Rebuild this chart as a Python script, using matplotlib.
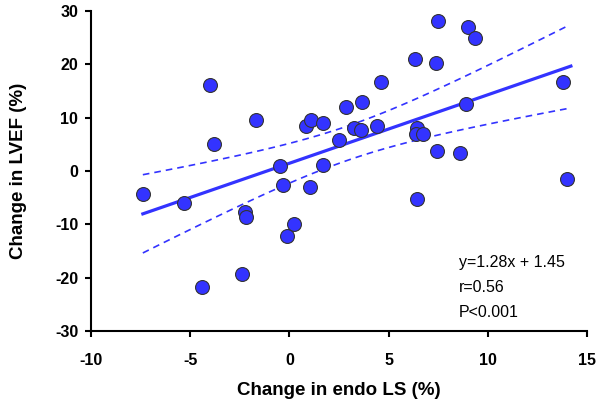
import numpy as np
import matplotlib
matplotlib.use("Agg")
import matplotlib.pyplot as plt

plt.rcParams['font.family'] = ['Liberation Sans', 'DejaVu Sans']
plt.rcParams['axes.unicode_minus'] = False

# Change in endo LS (%) vs change in LVEF (%)
endo_ls = [-7.4, -5.3, -4.4, -4.0, -3.8, -2.4, -2.25, -2.2, -1.7, -0.5,
           -0.35, -0.15, 0.25, 0.85, 1.05, 1.1, 1.7, 1.7, 2.5, 2.85,
           3.25, 3.6, 3.65, 4.4, 4.6, 6.35, 6.45, 6.4, 6.75, 6.45,
           7.4, 7.45, 7.5, 8.6, 8.9, 9.0, 9.35, 13.8, 14.0]
lvef = [-4.3, -6.0, -21.8, 16.1, 5.1, -19.3, -7.7, -8.7, 9.6, 0.9,
        -2.6, -12.2, -10.0, 8.4, -3.05, 9.6, 9.05, 1.2, 5.8, 12.0,
        8.0, 7.6, 13.0, 8.4, 16.7, 20.9, 8.0, 6.9, 6.9, -5.3,
        20.2, 3.75, 28.0, 3.4, 12.6, 27.0, 24.8, 16.7, -1.5]

slope = 1.28
intercept = 1.45
stats_text = ["y=1.28x + 1.45", "r=0.56", "P<0.001"]

x = np.array(endo_ls)
y = np.array(lvef)

# regression line with 95% confidence band around it
xs = np.linspace(x.min(), 14.2, 100)
ys = slope * xs + intercept
xb = np.linspace(x.min(), x.max(), 100)
yb = slope * xb + intercept
n = len(x)
resid = y - (slope * x + intercept)
s = np.sqrt(np.sum(resid ** 2) / (n - 2))
sxx = np.sum((x - x.mean()) ** 2)
half = 2.024 * s * np.sqrt(1 / n + (xb - x.mean()) ** 2 / sxx)

blue = '#3333ff'

fig = plt.figure(figsize=(6, 4.09), dpi=100)
ax = fig.add_axes([0.1522, 0.19, 0.8257, 0.7839])

ax.plot(xs, ys, color=blue, lw=2.3, zorder=2)
ax.plot(xb, yb + half, color=blue, lw=1.2, ls=(0, (4, 3)), zorder=2)
ax.plot(xb, yb - half, color=blue, lw=1.2, ls=(0, (4, 3)), zorder=2)
ax.scatter(x, y, s=100, color=blue, edgecolors='#333333', linewidths=0.8, zorder=3)

ax.set_xlim(-10, 15)
ax.set_ylim(-30, 30)
ax.set_xticks(range(-10, 16, 5))
ax.set_yticks(range(-30, 31, 10))

for side in ['top', 'right']:
    ax.spines[side].set_visible(False)
for side in ['left', 'bottom']:
    ax.spines[side].set_linewidth(1.5)

ax.tick_params(axis='both', direction='out', length=4.5, width=1.5, labelsize=11.5)
ax.tick_params(axis='x', pad=11)
ax.tick_params(axis='y', pad=5)
for lab in ax.get_xticklabels() + ax.get_yticklabels():
    lab.set_fontweight('bold')

ax.set_xlabel('Change in endo LS (%)', fontsize=13.5, fontweight='bold', labelpad=10)
ax.set_ylabel('Change in LVEF (%)', fontsize=13.5, fontweight='bold', labelpad=20)

for i, t in enumerate(stats_text):
    fig.text(459 / 600, 1 - (267 + 25 * i) / 409, t, fontsize=11.5, ha='left', va='baseline')

fig.savefig('out.png', dpi=100)
